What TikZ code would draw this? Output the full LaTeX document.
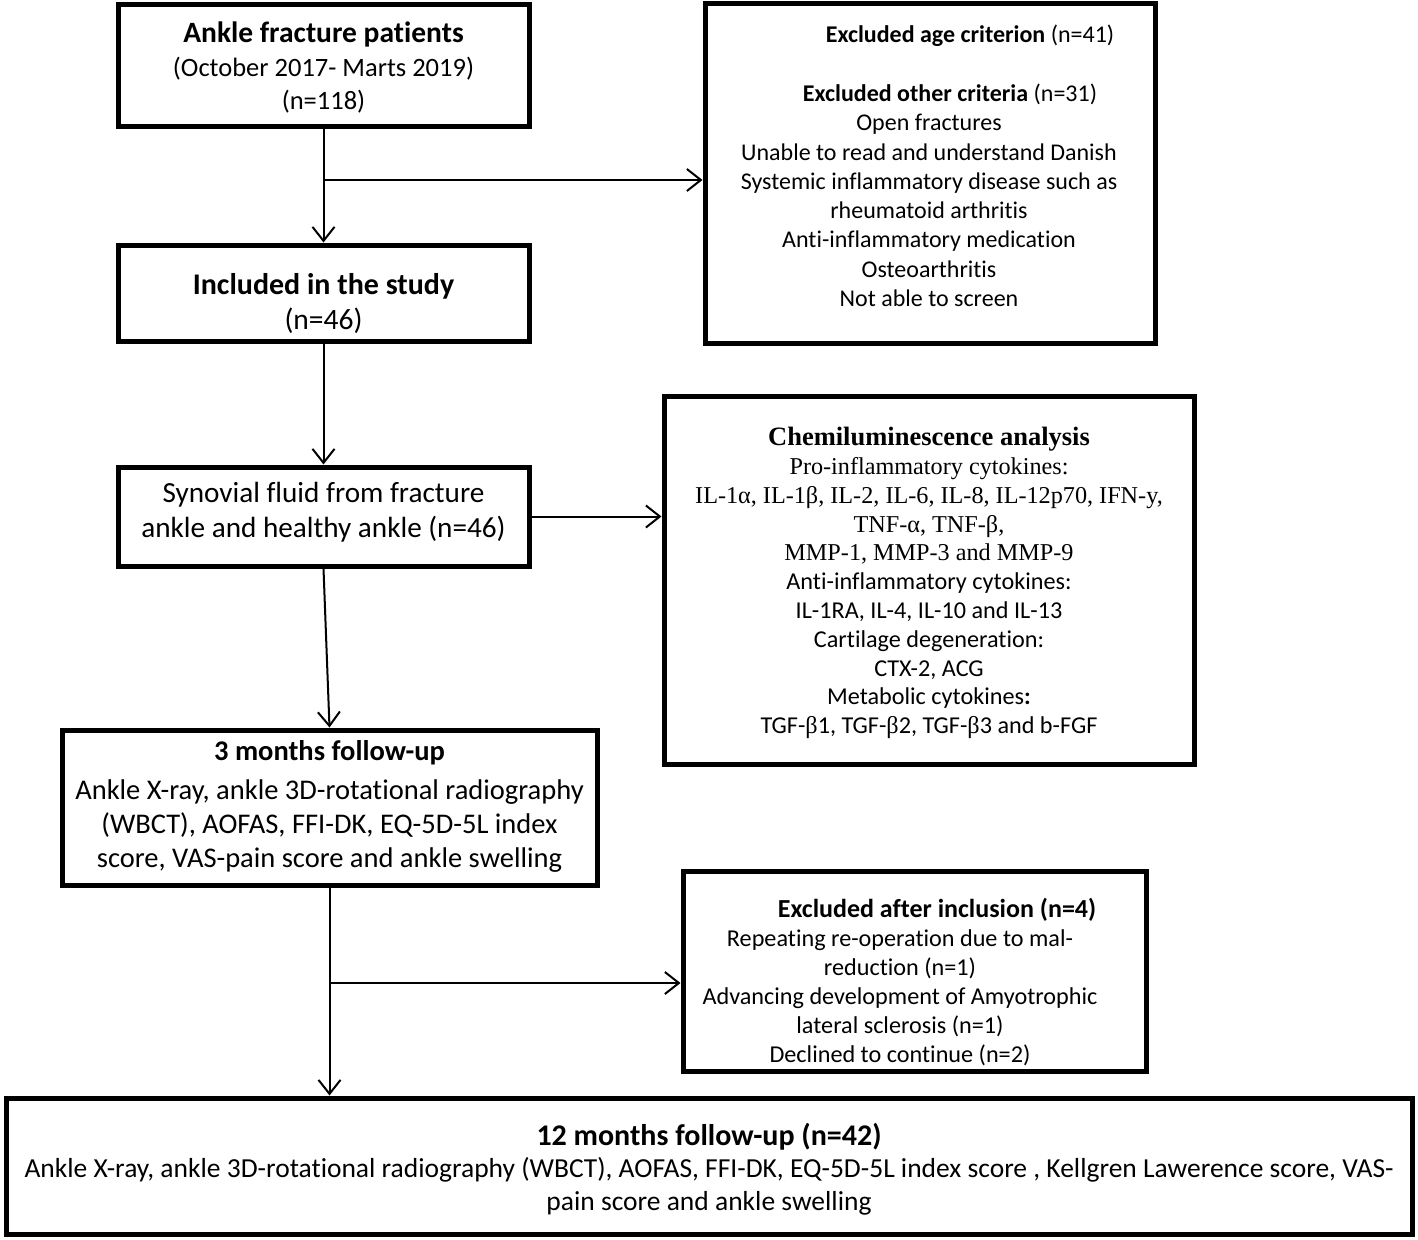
\documentclass[tikz,border=0pt]{standalone}
\usepackage{fontspec}
\setmainfont{Carlito}[Ligatures={TeX,NoCommon}]
\newfontfamily\serifc{Liberation Serif}
\usetikzlibrary{arrows.meta}
\tikzset{
  box/.style={draw, line width=5pt, inner sep=0pt},
  conn/.style={line width=2pt, -{Straight Barb[length=14pt,width=22pt,line width=2pt]}},
  txt/.style={align=center, inner sep=0pt},
}
\newcommand{\fsz}[2]{\fontsize{#1}{#2}\selectfont}
\newcommand{\ttl}[2]{{\fontsize{#1}{#1}\selectfont\bfseries #2}}
\begin{document}
\begin{tikzpicture}[x=1pt,y=-1pt]
\useasboundingbox (0,0) rectangle (1418,1239);
\fill[white] (0,0) rectangle (1418,1239);
% boxes
\node[box, minimum width=411pt, minimum height=121pt] (A) at (323.5,65.5) {};
\node[box, minimum width=450pt, minimum height=339pt] (E1) at (930,173.5) {};
\node[box, minimum width=411pt, minimum height=96pt] (B) at (323.5,293) {};
\node[box, minimum width=411pt, minimum height=99pt] (C) at (323.5,516.5) {};
\node[box, minimum width=530pt, minimum height=368pt] (Ch) at (929,580) {};
\node[box, minimum width=535pt, minimum height=155pt] (D) at (329.5,807.5) {};
\node[box, minimum width=463pt, minimum height=200pt] (E2) at (914.5,971) {};
\node[box, minimum width=1406pt, minimum height=136pt] (F) at (709,1166) {};
% texts
\node[txt, font=\fsz{26.5}{33.5}] (tA) at (323.5,67.5) {\ttl{29.5}{Ankle fracture patients}\\(October 2017- Marts 2019)\\(n=118)};
\node[txt, font=\fsz{29.5}{35}] (tB) at (323.5,304) {\ttl{30}{Included in the study}\\(n=46)};
\node[txt, font=\fsz{29.2}{35}] (tC) at (323.5,512) {Synovial fluid from fracture\\ankle and healthy ankle (n=46)};
\node[txt, font=\fsz{28.5}{34}] (tD) at (329.5,806) {\ttl{28.5}{3 months follow-up}\\[5pt]Ankle X-ray, ankle 3D-rotational radiography\\(WBCT), AOFAS, FFI-DK, EQ-5D-5L index\\score, VAS-pain score and ankle swelling};
\node[txt, font=\fsz{24}{29.3}] (tE1) at (929,166) {\hspace*{82pt}\textbf{Excluded age criterion} (n=41)\\ \\ \hspace*{42pt}\textbf{Excluded other criteria} (n=31)\\Open fractures\\Unable to read and understand Danish\\Systemic inflammatory disease such as\\rheumatoid arthritis\\Anti-inflammatory medication\\Osteoarthritis\\Not able to screen};
\node[txt, font=\fsz{24.2}{28.8}] (tCh) at (929,583) {{\serifc\bfseries\fontsize{26.5}{26}\selectfont Chemiluminescence analysis}\\{\serifc Pro-inflammatory cytokines:}\\{\serifc IL-1α, IL-1β, IL-2, IL-6, IL-8, IL-12p70, IFN-y,}\\{\serifc TNF-α, TNF-β,}\\{\serifc MMP-1, MMP-3 and MMP-9}\\Anti-inflammatory cytokines:\\IL-1RA, IL-4, IL-10 and IL-13\\Cartilage degeneration:\\CTX-2, ACG\\Metabolic cytokines\textbf{:}\\TGF-{\serifc β}1, TGF-{\serifc β}2, TGF-{\serifc β}3 and b-FGF};
\node[txt, font=\fsz{24.2}{29}] (tE2) at (900,982) {\hspace*{74pt}\ttl{26}{Excluded after inclusion (n=4)}\\Repeating re-operation due to mal-\\reduction (n=1)\\Advancing development of Amyotrophic\\lateral sclerosis (n=1)\\Declined to continue (n=2)};
\node[txt, font=\fsz{27.5}{32.5}] (tF) at (709,1169) {\ttl{30}{12 months follow-up (n=42)}\\Ankle X-ray, ankle 3D-rotational radiography (WBCT), AOFAS, FFI-DK, EQ-5D-5L index score , Kellgren Lawerence score, VAS-\\pain score and ankle swelling};
% connectors
\coordinate (j1) at (323.5,180);
\coordinate (j2) at (329.5,983);
\draw[conn] (A.south) -- (B.north);
\draw[conn] (j1) -- (j1 -| E1.west);
\draw[conn] (B.south) -- (C.north);
\draw[conn] (C.east) -- (C.east -| Ch.west);
\draw[conn] (C.south) -- (D.north);
\draw[conn] (D.south) -- (D.south |- F.north);
\draw[conn] (j2) -- (j2 -| E2.west);
\end{tikzpicture}
\end{document}
